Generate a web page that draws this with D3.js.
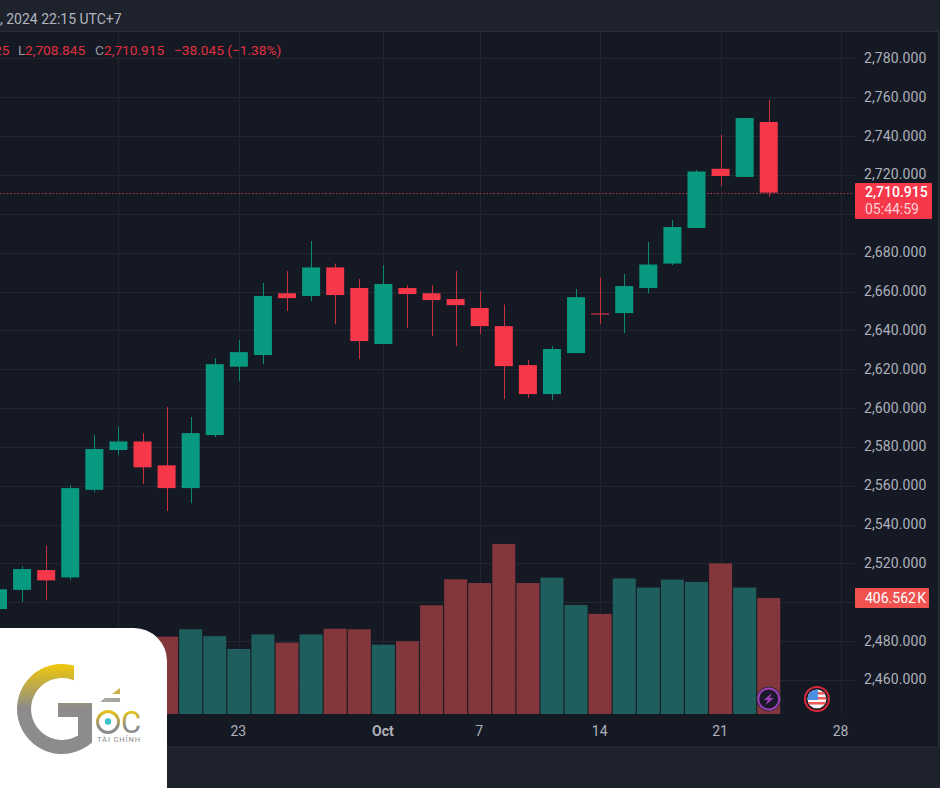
<!DOCTYPE html>
<html lang="en">
<head>
<meta charset="UTF-8">
<title>XAUUSD daily</title>
<style>
  html, body { margin: 0; padding: 0; background: #1e222d; overflow: hidden; }
  svg { display: block; }
  text { font-family: Roboto, sans-serif; }
</style>
</head>
<body>
<svg id="chart" width="940" height="788"></svg>
<script src="https://cdn.jsdelivr.net/npm/d3@7/dist/d3.min.js"></script>
<script>
// trading days, the last three have no candle yet
const dates = ["2024-09-09","2024-09-10","2024-09-11","2024-09-12","2024-09-13",
  "2024-09-16","2024-09-17","2024-09-18","2024-09-19","2024-09-20",
  "2024-09-23","2024-09-24","2024-09-25","2024-09-26","2024-09-27",
  "2024-09-30","2024-10-01","2024-10-02","2024-10-03","2024-10-04",
  "2024-10-07","2024-10-08","2024-10-09","2024-10-10","2024-10-11",
  "2024-10-14","2024-10-15","2024-10-16","2024-10-17","2024-10-18",
  "2024-10-21","2024-10-22","2024-10-23","2024-10-24","2024-10-25","2024-10-28"];

const opens  = [2496.5,2506.4,2516.6,2512.8,2557.9,2578.4,2582.8,2570.5,2558.8,2586.1,2621.3,2627.3,2659.1,2657.7,2672.4,2661.8,2633.0,2661.8,2659.1,2656.1,2651.5,2642.2,2622.1,2607.2,2628.3,2648.7,2648.9,2661.8,2674.4,2692.7,2723.2,2719.0,2747.3];
const highs  = [2508.0,2518.6,2529.1,2560.2,2586.1,2590.2,2587.1,2600.5,2595.4,2625.7,2635.0,2664.4,2670.5,2686.0,2674.4,2666.4,2673.6,2663.3,2663.3,2670.5,2660.2,2653.3,2624.7,2631.9,2661.3,2667.2,2669.0,2685.5,2696.8,2722.5,2740.6,2749.3,2758.8];
const lows   = [2490.0,2500.2,2501.1,2511.4,2556.7,2575.8,2560.9,2547.0,2551.0,2585.0,2614.0,2622.6,2650.0,2655.1,2643.2,2625.2,2633.0,2641.2,2637.1,2631.9,2638.1,2604.6,2605.1,2604.1,2628.3,2643.2,2638.6,2659.2,2673.6,2692.5,2714.3,2719.0,2708.845];
const closes = [2506.7,2517.1,2511.3,2558.8,2578.9,2582.8,2569.5,2558.8,2587.1,2622.6,2628.8,2657.7,2656.6,2672.4,2658.2,2634.5,2663.9,2658.7,2655.6,2653.0,2642.2,2621.6,2607.2,2630.4,2657.1,2648.6,2662.8,2673.9,2693.2,2721.8,2719.5,2749.3,2710.915];
// first seven bars sit behind the logo card, nothing of them can be read
const volumes = [null,null,null,null,null,null,null,271,297,273,228,279,250,279,299,297,243,255,381,472,459,596,459,478,382,351,475,443,471,463,528,443,406.562];

const priceTicks = d3.range(2460, 2781, 20);
// 2,500 and 2,700 are covered by the tags
const priceLabels = priceTicks.filter(d => d !== 2500 && d !== 2700);
const timeTicks = ["2024-09-16","2024-09-23","2024-10-01","2024-10-07","2024-10-14","2024-10-21","2024-10-28"];
const timeLabels = ["16","23","Oct","7","14","21","28"];

const upColor = "#089a80", downColor = "#f7384a";
const upVol = "#1e5f5e", downVol = "#83363b";

const svg = d3.select("#chart");
const plotTop = 32, plotBottom = 714, plotRight = 854, paneRight = 939, paneBottom = 747;

const x = d3.scalePoint().domain(dates).range([-2, 841]);
const y = d3.scaleLinear().domain([2460, 2760]).range([680, 97.3]);
const yVol = d3.scaleLinear().domain([0, 406.562]).range([plotBottom, 598]);

// pane background
svg.append("rect").attr("width", 940).attr("height", 788).attr("fill", "#1e222d");
svg.append("rect").attr("x", -1).attr("y", 31.5).attr("width", paneRight + 0.5).attr("height", paneBottom - 31.5)
  .attr("fill", "#151924").attr("stroke", "#2a2e39");

// grid
svg.append("g").selectAll("line").data(priceTicks).join("line")
  .attr("x1", 0).attr("x2", plotRight)
  .attr("y1", d => Math.round(y(d)) + 0.5).attr("y2", d => Math.round(y(d)) + 0.5)
  .attr("stroke", "#22262f");
svg.append("g").selectAll("line").data(timeTicks).join("line")
  .attr("x1", d => Math.round(x(d)) + 0.5).attr("x2", d => Math.round(x(d)) + 0.5)
  .attr("y1", plotTop).attr("y2", plotBottom)
  .attr("stroke", "#22262f");

const rows = dates.slice(0, closes.length).map((d, i) => ({
  date: d, open: opens[i], high: highs[i], low: lows[i], close: closes[i], volume: volumes[i]
}));

// volume
svg.append("g").selectAll("rect").data(rows.filter(d => d.volume != null)).join("rect")
  .attr("x", d => x(d.date) - 11.5).attr("width", 23)
  .attr("y", d => yVol(d.volume)).attr("height", d => plotBottom - yVol(d.volume))
  .attr("fill", d => d.close >= d.open ? upVol : downVol);

// last price line
svg.append("line").attr("x1", 0).attr("x2", plotRight)
  .attr("y1", Math.round(y(2710.915)) + 0.5).attr("y2", Math.round(y(2710.915)) + 0.5)
  .attr("stroke", "#b23a47").attr("stroke-dasharray", "1.5 2");

// candles
const candle = svg.append("g").selectAll("g").data(rows).join("g");
candle.append("line")
  .attr("x1", d => Math.round(x(d.date)) + 0.5).attr("x2", d => Math.round(x(d.date)) + 0.5)
  .attr("y1", d => y(d.high)).attr("y2", d => y(d.low))
  .attr("stroke", d => d.close >= d.open ? "#0a8a74" : "#c8303f");
candle.append("rect")
  .attr("x", d => x(d.date) - 9).attr("width", 18)
  .attr("y", d => y(Math.max(d.open, d.close)))
  .attr("height", d => Math.max(1, Math.abs(y(d.open) - y(d.close))))
  .attr("fill", d => d.close >= d.open ? upColor : downColor);

// price axis
const yAxis = svg.append("g").attr("transform", "translate(855,-0.5)")
  .call(d3.axisRight(y).tickValues(priceLabels).tickSize(0).tickPadding(9).tickFormat(d3.format(",.3f")));
yAxis.select(".domain").remove();
yAxis.selectAll("text").attr("font-family", "Roboto, sans-serif").attr("font-size", 14)
  .attr("letter-spacing", 0.1).attr("fill", "#aeb1ba");

// time axis
const xAxis = svg.append("g").attr("transform", `translate(-1,${plotBottom})`)
  .call(d3.axisBottom(x).tickValues(timeTicks).tickSize(0).tickPadding(12)
    .tickFormat(d => timeLabels[timeTicks.indexOf(d)]));
xAxis.select(".domain").remove();
xAxis.selectAll("text").attr("font-family", "Roboto, sans-serif").attr("font-size", 14).attr("fill", "#aeb1ba")
  .attr("font-weight", d => d === "2024-10-01" ? 700 : 400);

// header + legend
svg.append("text").attr("x", 0).attr("y", 24).attr("font-size", 14).attr("fill", "#b2b5be").text(", 2024 22:15 UTC+7");
const legend = svg.append("text").attr("y", 55).attr("font-size", 13.7);
legend.append("tspan").attr("x", -6).attr("fill", "#e0303f").text("25");
legend.append("tspan").attr("x", 18).attr("fill", "#9598a1").text("L");
legend.append("tspan").attr("x", 25).attr("fill", "#e0303f").text("2,708.845");
legend.append("tspan").attr("x", 95).attr("fill", "#9598a1").text("C");
legend.append("tspan").attr("x", 104).attr("fill", "#e0303f").text("2,710.915");
legend.append("tspan").attr("x", 174).attr("fill", "#e0303f").text("−38.045 (−1.38%)");

// last price tag
svg.append("rect").attr("x", 855).attr("y", 183).attr("width", 77).attr("height", 36).attr("rx", 1).attr("fill", "#f6384a");
svg.append("text").attr("x", 865).attr("y", 197).attr("font-size", 14).attr("font-weight", 500).attr("fill", "#ffffff").text("2,710.915");
svg.append("text").attr("x", 865).attr("y", 214).attr("font-size", 14).attr("fill", "#fbd0d4").text("05:44:59");

// volume tag
svg.append("rect").attr("x", 855).attr("y", 588).attr("width", 74).attr("height", 20).attr("rx", 1).attr("fill", "#f0534f");
svg.append("text").attr("x", 865).attr("y", 603).attr("font-size", 14).attr("word-spacing", -2).attr("fill", "#ffffff").text("406.562 K");

// event markers
const ev = svg.append("g").attr("transform", `translate(${x("2024-10-23")},699)`);
ev.append("circle").attr("r", 12).attr("fill", "#1c1a2a").attr("stroke", "#2a2e39");
ev.append("circle").attr("r", 10.5).attr("fill", "#1c1a2a").attr("stroke", "#9c3fb5").attr("stroke-width", 2);
ev.append("path").attr("d", "M3,-6 L-5,1 L-1,1 L-3,6 L5,-1 L1,-1 Z").attr("fill", "#9c3fb5");

const flag = svg.append("g").attr("transform", `translate(${x("2024-10-25")},699)`);
flag.append("clipPath").attr("id", "flagClip").append("circle").attr("r", 9.5);
flag.append("circle").attr("r", 12).attr("fill", "#131722").attr("stroke", "#d9283a").attr("stroke-width", 2);
const fl = flag.append("g").attr("clip-path", "url(#flagClip)");
fl.append("rect").attr("x", -10).attr("y", -10).attr("width", 20).attr("height", 20).attr("fill", "#f5f5f5");
fl.selectAll(".stripe").data([-7, -2, 3]).join("rect").attr("class", "stripe")
  .attr("x", -10).attr("y", d => d).attr("width", 20).attr("height", 2.5).attr("fill", "#ef5a5a");
fl.append("rect").attr("x", -10).attr("y", -10).attr("width", 11).attr("height", 11).attr("fill", "#4a8fe0");

// logo card
const defs = svg.append("defs");
function logoGradient(id, y1, y2) {
  const g = defs.append("linearGradient").attr("id", id).attr("gradientUnits", "userSpaceOnUse")
    .attr("x1", 0).attr("x2", 0).attr("y1", y1).attr("y2", y2);
  g.append("stop").attr("offset", 0).attr("stop-color", "#ebc60f");
  g.append("stop").attr("offset", 1).attr("stop-color", "#8d8b8b");
}
logoGradient("gGold", 666, 708);
logoGradient("oGold", 710, 728);

svg.append("path").attr("d", "M0,628 H134 A33,33 0 0 1 167,661 V788 H0 Z").attr("fill", "#ffffff");

svg.append("path")
  .attr("d", "M74,665.6 A45,45 0 1 0 92,742.5 V703 H58 V717 H78 V735.6 A31,31 0 1 1 74,680.4 Z")
  .attr("fill", "url(#gGold)");

svg.append("path").attr("d", "M112,694 L120,688 V694 Z").attr("fill", "#c9b04a");
svg.append("path").attr("d", "M105,698 H120 V702 H100 Z").attr("fill", "#a8a6a0");
svg.append("circle").attr("cx", 108).attr("cy", 722).attr("r", 10.5)
  .attr("fill", "none").attr("stroke", "url(#oGold)").attr("stroke-width", 3);
svg.append("circle").attr("cx", 108).attr("cy", 721.5).attr("r", 3.2).attr("fill", "#3fc1c9");
svg.append("text").attr("x", 121).attr("y", 733).attr("font-size", 31).attr("fill", "url(#oGold)")
  .attr("font-family", "Roboto, sans-serif").text("C");
svg.append("text").attr("x", 97).attr("y", 741.5).attr("font-size", 7.5).attr("letter-spacing", 0.9)
  .attr("fill", "#8d8b8b").text("TÀI CHÍNH");
</script>
</body>
</html>
